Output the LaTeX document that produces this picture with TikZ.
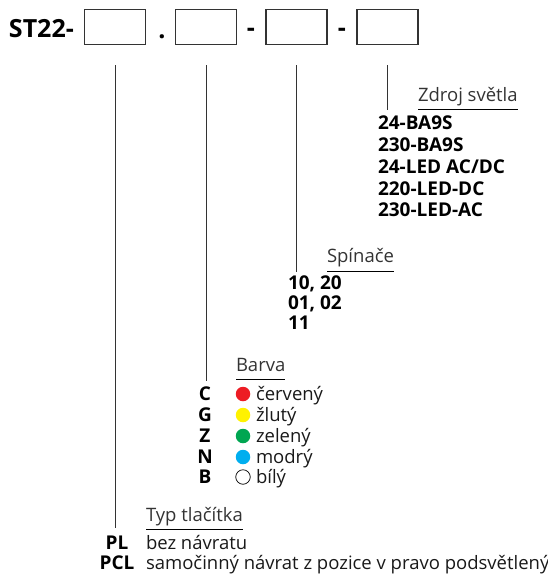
\documentclass[tikz,border=0pt]{standalone}
\usepackage{fontspec}
\setmainfont{Open Sans}
\definecolor{cred}{HTML}{ED1C24}
\definecolor{cyellow}{HTML}{FFF200}
\definecolor{cgreen}{HTML}{00A651}
\definecolor{cblue}{HTML}{00AEEF}
\definecolor{lncol}{HTML}{333333}
\begin{document}
\begin{tikzpicture}[x=1pt,y=-1pt,
  every node/.style={inner sep=0pt,outer sep=0pt},
  slot/.style={draw=lncol,line width=1.1pt,minimum width=61pt,minimum height=35pt},
  lead/.style={draw=lncol,line width=0.9pt},
  uline/.style={draw=black,line width=0.9pt},
  item/.style={anchor=west,font=\fontsize{19}{22}\selectfont\bfseries,text height=13.5pt,text depth=0pt},
  code/.style={anchor=center,font=\fontsize{19}{22}\selectfont\bfseries,text height=13.5pt,text depth=0pt},
  head/.style={anchor=west,font=\fontsize{18.5}{22}\selectfont,text=black!80,text height=13pt,text depth=0pt},
  desc/.style={anchor=west,font=\fontsize{18.5}{22}\selectfont,text=black!90,text height=13pt,text depth=0pt},
  big/.style={font=\fontsize{25}{28}\selectfont\bfseries,text height=17.5pt,text depth=0pt},
  dot/.style={circle,minimum size=14.5pt,line width=0.7pt}
]
\useasboundingbox (0,0) rectangle (548,574);
% title row
\node[big,anchor=west] (st) at (9,29) {ST22-};
\node[slot] (b1) at (115,27) {};
\node[big] (p1) at (162,30) {.};
\node[slot] (b2) at (206,27) {};
\node[big] (d1) at (251,28) {-};
\node[slot] (b3) at (296.5,27) {};
\node[big] (d2) at (342,28) {-};
\node[slot] (b4) at (387.5,27) {};

% lead lines
\coordinate (t1) at (115,65); \coordinate (e1) at (115,528);
\coordinate (t2) at (206,65); \coordinate (e2) at (206,381);
\coordinate (t3) at (296.5,65); \coordinate (e3) at (296.5,272);
\coordinate (t4) at (387.5,65); \coordinate (e4) at (387.5,110);
\draw[lead] (t1) -- (e1);
\draw[lead] (t2) -- (e2);
\draw[lead] (t3) -- (e3);
\draw[lead] (t4) -- (e4);

% Zdroj svetla
\node[head] (hz) at (418,95) {Zdroj světla};
\draw[uline] (hz.west |- 0,109) -- (hz.east |- 0,109);
\node[item] (z1) at (378,123) {24-BA9S};
\node[item] (z2) at (378,145) {230-BA9S};
\node[item] (z3) at (378,167) {24-LED AC/DC};
\node[item] (z4) at (378,189) {220-LED-DC};
\node[item] (z5) at (378,210) {230-LED-AC};

% Spinace
\node[head] (hs) at (327,256) {Spínače};
\draw[uline] (hs.west |- 0,271) -- (hs.east |- 0,271);
\node[item] (s1) at (288,283) {10, 20};
\node[item] (s2) at (288,303) {01, 02};
\node[item] (s3) at (288,323) {11};

% Barva
\node[head] (hb) at (236,365) {Barva};
\draw[uline] (hb.west |- 0,379) -- (hb.east |- 0,379);
\node[code] (cC) at (205,394) {C};
\node[code] (cG) at (205,415) {G};
\node[code] (cZ) at (205,436) {Z};
\node[code] (cN) at (205,457) {N};
\node[code] (cB) at (205,477) {B};
\node[dot,fill=cred] (o1) at (243,394) {};
\node[dot,fill=cyellow] (o2) at (243,415) {};
\node[dot,fill=cgreen] (o3) at (243,436) {};
\node[dot,fill=cblue] (o4) at (243,457) {};
\node[dot,draw=black,fill=white] (o5) at (243,477) {};
\node[desc] (t1x) at (256,394) {červený};
\node[desc] (t2x) at (256,415) {žlutý};
\node[desc] (t3x) at (256,436) {zelený};
\node[desc] (t4x) at (256,457) {modrý};
\node[desc] (t5x) at (256,477) {bílý};

% Typ tlacitka
\node[head] (ht) at (146,515) {Typ tlačítka};
\draw[uline] (ht.west |- 0,529) -- (ht.east |- 0,529);
\node[code] (pl) at (117,543) {PL};
\node[code] (pcl) at (117,563) {PCL};
\node[desc] (pld) at (146,543) {bez návratu};
\node[desc] (pcld) at (146,563) {samočinný návrat z pozice v pravo podsvětlený};
\end{tikzpicture}
\end{document}
